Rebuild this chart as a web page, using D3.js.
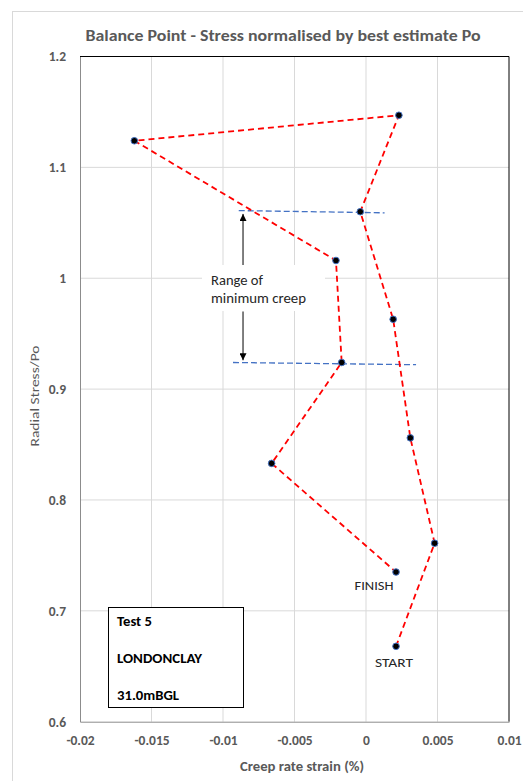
<!DOCTYPE html>
<html><head><meta charset="utf-8">
<script src="https://cdn.jsdelivr.net/npm/d3@7"></script>
<style>body{margin:0;background:#fff}svg{display:block}text{font-family:Carlito,Calibri,"Open Sans",sans-serif}</style>
</head><body><svg id="c" width="523" height="781"></svg>
<script>
const xValues = [0.0021, 0.0048, 0.0031, 0.0019, -0.0004, 0.0023, -0.0162, -0.0021, -0.0017, -0.0066, 0.0021];
const yValues = [0.668, 0.761, 0.856, 0.963, 1.060, 1.147, 1.124, 1.016, 0.924, 0.833, 0.735];
const rangeTopX = [-0.0089, 0.0013];
const rangeTopY = [1.061, 1.059];
const rangeBotX = [-0.0093, 0.0035];
const rangeBotY = [0.924, 0.922];
const xTicks = [-0.02, -0.015, -0.01, -0.005, 0, 0.005, 0.01];
const xTickLabels = ["-0.02", "-0.015", "-0.01", "-0.005", "0", "0.005", "0.01"];
const yTicks = [0.6, 0.7, 0.8, 0.9, 1.0, 1.1, 1.2];
const yTickLabels = ["0.6", "0.7", "0.8", "0.9", "1", "1.1", "1.2"];
const infoLines = ["Test 5", "LONDONCLAY", "31.0mBGL"];
const infoWidths = [35, 85, 62];

const svg = d3.select("#c");
const L = 80, R = 509, T = 56.5, B = 721.7;
const x = d3.scaleLinear().domain([-0.02, 0.01]).range([L, R]);
const y = d3.scaleLinear().domain([0.6, 1.2]).range([B, T]);

// outer chart border
svg.append("rect").attr("x", 12.5).attr("y", 11.5).attr("width", 530).attr("height", 790)
  .attr("fill", "#fff").attr("stroke", "#d9d9d9");

// gridlines
svg.append("g").selectAll("line").data(xTicks.slice(1, -1)).join("line")
  .attr("x1", d => x(d)).attr("x2", d => x(d)).attr("y1", T).attr("y2", B)
  .attr("stroke", "#d9d9d9").attr("stroke-width", 1);
svg.append("g").selectAll("line").data(yTicks.slice(1, -1)).join("line")
  .attr("y1", d => y(d)).attr("y2", d => y(d)).attr("x1", L).attr("x2", R)
  .attr("stroke", "#d9d9d9").attr("stroke-width", 1);

// plot border (top/right dark)
svg.append("path").attr("d", `M${L},${T}H${R}V${B}`).attr("fill", "none").attr("stroke", "#000").attr("stroke-width", 1);

// axes
const xAxis = d3.axisBottom(x).tickValues(xTicks).tickFormat((d, i) => xTickLabels[i]).tickSize(0).tickPadding(14);
const gx = svg.append("g").attr("transform", `translate(0,${B})`).call(xAxis);
gx.select(".domain").attr("stroke", "#8c8c8c");
gx.selectAll("text").attr("font-size", 13.5).attr("font-weight", "bold").attr("fill", "#595959");
const yAxis = d3.axisLeft(y).tickValues(yTicks).tickFormat((d, i) => yTickLabels[i]).tickSize(0).tickPadding(14);
const gy = svg.append("g").attr("transform", `translate(${L},0)`).call(yAxis);
gy.select(".domain").attr("stroke", "#8c8c8c");
gy.selectAll("text").attr("font-size", 13.5).attr("font-weight", "bold").attr("fill", "#595959");

// titles
svg.append("text").attr("x", 283).attr("y", 41).attr("text-anchor", "middle")
  .attr("font-size", 15).attr("font-weight", "bold").attr("fill", "#595959")
  .attr("textLength", 395).attr("lengthAdjust", "spacingAndGlyphs")
  .text("Balance Point - Stress normalised by best estimate Po");
svg.append("text").attr("x", 302).attr("y", 771).attr("text-anchor", "middle")
  .attr("font-size", 13).attr("font-weight", "bold").attr("fill", "#595959")
  .attr("textLength", 124).attr("lengthAdjust", "spacingAndGlyphs")
  .text("Creep rate strain (%)");
svg.append("text").attr("transform", "translate(39,396) rotate(-90)").attr("text-anchor", "middle")
  .attr("font-size", 13).attr("fill", "#595959")
  .attr("textLength", 101).attr("lengthAdjust", "spacingAndGlyphs")
  .text("Radial Stress/Po");

// blue range lines
const pts = (xs, ys) => xs.map((v, i) => [v, ys[i]]);
const line = d3.line().x(d => x(d[0])).y(d => y(d[1]));
[pts(rangeTopX, rangeTopY), pts(rangeBotX, rangeBotY)].forEach(p => {
  svg.append("path").attr("d", line(p)).attr("fill", "none")
    .attr("stroke", "#4472c4").attr("stroke-width", 1.3).attr("stroke-dasharray", "6,3");
});

// red series line
const data = pts(xValues, yValues);
svg.append("path").attr("d", line(data)).attr("fill", "none")
  .attr("stroke", "#ff0000").attr("stroke-width", 1.8).attr("stroke-dasharray", "6,4");

// markers
svg.append("g").selectAll("circle").data(data).join("circle")
  .attr("cx", d => x(d[0])).attr("cy", d => y(d[1])).attr("r", 3.3)
  .attr("fill", "#000").attr("stroke", "#4472c4").attr("stroke-width", 1);

// annotation arrows
const defs = svg.append("defs");
defs.append("marker").attr("id", "ah").attr("viewBox", "0 0 10 10").attr("refX", 10).attr("refY", 5)
  .attr("markerWidth", 7).attr("markerHeight", 7).attr("orient", "auto-start-reverse")
  .append("path").attr("d", "M0,0L10,5L0,10z").attr("fill", "#000");
const ax = -0.0086;
svg.append("line").attr("x1", x(ax)).attr("x2", x(ax)).attr("y1", y(0.985)).attr("y2", y(1.058))
  .attr("stroke", "#000").attr("stroke-width", 1).attr("marker-end", "url(#ah)");
svg.append("line").attr("x1", x(ax)).attr("x2", x(ax)).attr("y1", y(0.970)).attr("y2", y(0.926))
  .attr("stroke", "#000").attr("stroke-width", 1).attr("marker-end", "url(#ah)");

// annotation text with white background
svg.append("rect").attr("x", 202).attr("y", 265).attr("width", 123).attr("height", 46).attr("fill", "#fff");
const ann = svg.append("text").attr("font-size", 14).attr("fill", "#262626");
ann.append("tspan").attr("x", 211).attr("y", 285).attr("textLength", 52).attr("lengthAdjust", "spacingAndGlyphs").text("Range of");
ann.append("tspan").attr("x", 211).attr("y", 303).attr("textLength", 95).attr("lengthAdjust", "spacingAndGlyphs").text("minimum creep");

// start / finish labels
svg.append("text").attr("x", x(xValues[10]) - 22).attr("y", y(yValues[10]) + 18).attr("text-anchor", "middle")
  .attr("font-size", 13).attr("fill", "#262626")
  .attr("textLength", 39).attr("lengthAdjust", "spacingAndGlyphs").text("FINISH");
svg.append("text").attr("x", x(xValues[0]) - 2).attr("y", y(yValues[0]) + 21).attr("text-anchor", "middle")
  .attr("font-size", 13).attr("fill", "#262626")
  .attr("textLength", 38).attr("lengthAdjust", "spacingAndGlyphs").text("START");

// info box
svg.append("rect").attr("x", 108.5).attr("y", 607.5).attr("width", 135).attr("height", 100)
  .attr("fill", "#fff").attr("stroke", "#000").attr("stroke-width", 1);
svg.append("g").selectAll("text").data(infoLines).join("text")
  .attr("x", 117).attr("y", (d, i) => 626 + i * 37)
  .attr("font-size", 13).attr("font-weight", "bold").attr("fill", "#000")
  .attr("textLength", (d, i) => infoWidths[i]).attr("lengthAdjust", "spacingAndGlyphs").text(d => d);
</script></body></html>
